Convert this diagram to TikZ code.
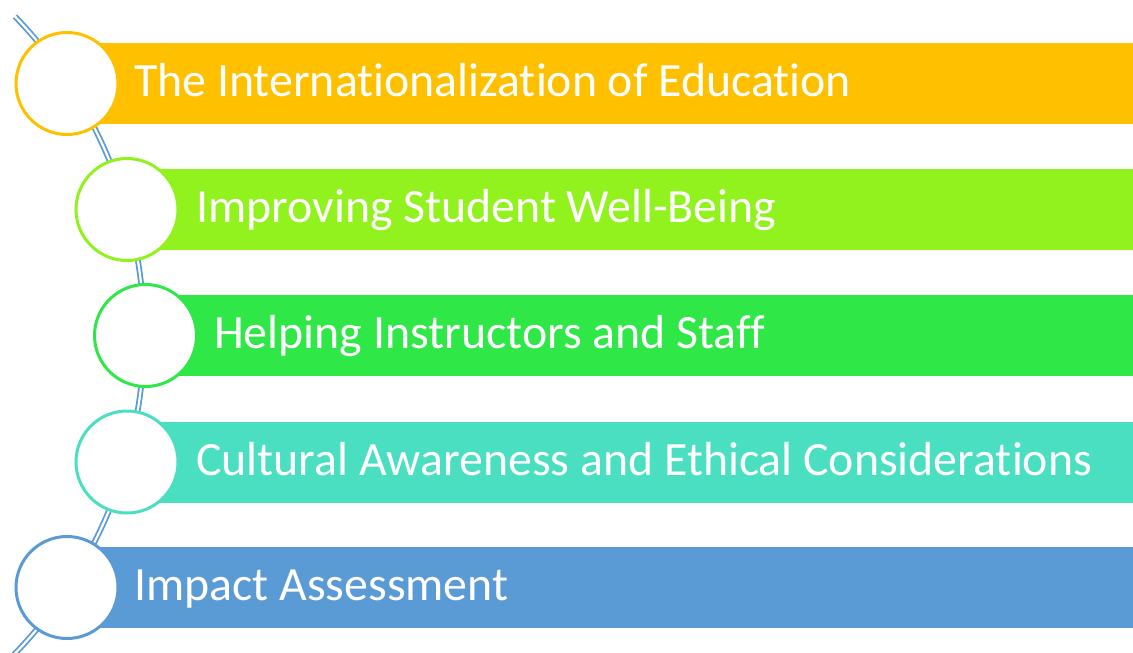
\documentclass[tikz,border=0pt]{standalone}
\usepackage{fontspec}
\setmainfont{Carlito}[Ligatures={NoCommon}]
\definecolor{cGold}{HTML}{FFC000}
\definecolor{cLime}{HTML}{92F21E}
\definecolor{cGreen}{HTML}{2FE848}
\definecolor{cTeal}{HTML}{4ADFC0}
\definecolor{cBlue}{HTML}{5B9BD5}
\tikzset{
  bar/.style={fill=#1, draw=none, anchor=west, minimum height=81pt, minimum width=1100pt, inner sep=0pt},
  bullet/.style={circle, fill=white, draw=#1, line width=3pt, minimum size=102pt, inner sep=0pt},
  label/.style={anchor=base west, inner sep=0pt, text=white, font=\fontsize{47.8}{57}\selectfont},
  spine/.style={draw=cBlue, line width=1.8pt, double=white, double distance=2.2pt, line cap=butt}
}
\begin{document}
\begin{tikzpicture}[x=1pt,y=1pt]
  \useasboundingbox (0,0) rectangle (1133,-653);
  \clip (0,0) rectangle (1133,-653);
  % curved spine behind the bullets
  \coordinate (arcC) at (-313.7,-335);
  \draw[spine] ([shift={(arcC)}]44.1:457.7) arc[start angle=44.1, end angle=-47, radius=457.7];
  % bars
  \node[bar=cGold]  (b1) at (67,-83.5)   {};
  \node[bar=cLime]  (b2) at (127,-209.5) {};
  \node[bar=cGreen] (b3) at (145.5,-335.5) {};
  \node[bar=cTeal]  (b4) at (127,-462)   {};
  \node[bar=cBlue]  (b5) at (67,-587.5)  {};
  % bullets
  \node[bullet=cGold]  (k1) at (b1.west) {};
  \node[bullet=cLime]  (k2) at (b2.west) {};
  \node[bullet=cGreen] (k3) at (b3.west) {};
  \node[bullet=cTeal]  (k4) at (b4.west) {};
  \node[bullet=cBlue]  (k5) at (b5.west) {};
  % labels
  \node[label] (t1) at (134,-96.7)  {The Internationalization of Education};
  \node[label] (t2) at (196,-222.7) {Improving Student Well-Being};
  \node[label] (t3) at (214,-348.7) {Helping Instructors and Staff};
  \node[label] (t4) at (196,-475.2) {Cultural Awareness and Ethical Considerations};
  \node[label] (t5) at (134,-600.7) {Impact Assessment};
\end{tikzpicture}
\end{document}
